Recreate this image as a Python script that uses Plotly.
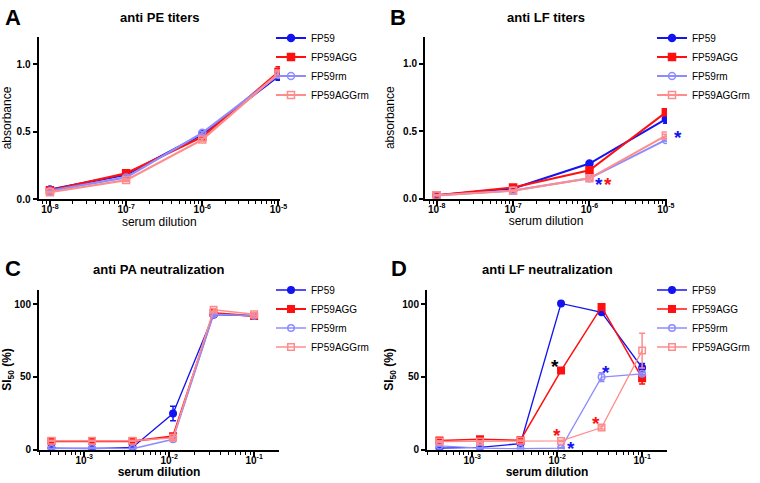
import plotly.graph_objects as go

W, H = 760, 483
FONT = "Liberation Sans, Arial, sans-serif"


def px(p):
    return p / W


def py(p):
    return 1 - p / H


names = ["FP59", "FP59AGG", "FP59rm", "FP59AGGrm"]
colors = ["#1414f0", "#ff1010", "#8c8cff", "#ff8c8c"]
symbols = ["circle", "square", "circle-open", "square-open"]

# ---- Panel A: anti PE titers ----
titer_dil = [1e-8, 1e-7, 1e-6, 1e-5]
pe_fp59 = [0.07, 0.18, 0.48, 0.91]
pe_agg = [0.065, 0.19, 0.46, 0.94]
pe_rm = [0.06, 0.16, 0.49, 0.92]
pe_aggrm = [0.05, 0.14, 0.44, 0.93]
pe_err_fp59 = [0.01, 0.01, 0.01, 0.03]
pe_err_agg = [0.01, 0.01, 0.01, 0.04]
pe_err_rm = [0.005, 0.01, 0.01, 0.02]
pe_err_aggrm = [0.005, 0.01, 0.01, 0.02]

# ---- Panel B: anti LF titers ----
lf_fp59 = [0.025, 0.075, 0.26, 0.59]
lf_agg = [0.025, 0.082, 0.21, 0.64]
lf_rm = [0.022, 0.06, 0.15, 0.435]
lf_aggrm = [0.025, 0.057, 0.15, 0.468]
lf_err_fp59 = [0.005, 0.005, 0.01, 0.03]
lf_err_agg = [0.005, 0.005, 0.01, 0.015]
lf_err_rm = [0.003, 0.005, 0.01, 0.01]
lf_err_aggrm = [0.003, 0.005, 0.01, 0.01]

# ---- Panel C: anti PA neutralization ----
neut_dil = [1/2430, 1/810, 1/270, 1/90, 1/30, 1/10]
pa_fp59 = [1.0, 0.5, 1.4, 24.7, 92.7, 91.8]
pa_agg = [5.7, 5.9, 5.7, 9.1, 93.8, 91.8]
pa_rm = [0.5, 1.0, 0.5, 7.0, 93.0, 92.0]
pa_aggrm = [6.0, 6.0, 6.0, 8.0, 96.0, 93.0]
pa_err_fp59 = [0.5, 0.5, 0.5, 5.0, 1.5, 1.0]
pa_err_agg = [0.5, 0.5, 0.5, 1.0, 1.5, 2.0]
pa_err_rm = [0.3, 0.5, 0.3, 1.0, 1.0, 1.0]
pa_err_aggrm = [0.3, 0.3, 0.3, 1.0, 1.0, 1.0]

# ---- Panel D: anti LF neutralization ----
lfn_fp59 = [0.9, 1.4, 4.1, 100.4, 94.3, 56.2]
lfn_agg = [6.2, 7.1, 6.4, 54.3, 98.0, 49.0]
lfn_rm = [2.5, 1.0, 0.5, 1.0, 49.8, 52.0]
lfn_aggrm = [5.5, 5.5, 6.0, 5.9, 15.1, 68.0]
lfn_err_fp59 = [0.5, 0.5, 0.5, 0.5, 1.0, 3.0]
lfn_err_agg = [0.5, 0.5, 0.5, 1.0, 1.5, 4.0]
lfn_err_rm = [0.5, 0.3, 0.3, 0.3, 3.0, 1.0]
lfn_err_aggrm = [0.5, 0.5, 0.5, 0.5, 1.0, 12.0]

panels = [
    dict(x=titer_dil, ys=[pe_fp59, pe_agg, pe_rm, pe_aggrm],
         errs=[pe_err_fp59, pe_err_agg, pe_err_rm, pe_err_aggrm]),
    dict(x=titer_dil, ys=[lf_fp59, lf_agg, lf_rm, lf_aggrm],
         errs=[lf_err_fp59, lf_err_agg, lf_err_rm, lf_err_aggrm]),
    dict(x=neut_dil, ys=[pa_fp59, pa_agg, pa_rm, pa_aggrm],
         errs=[pa_err_fp59, pa_err_agg, pa_err_rm, pa_err_aggrm]),
    dict(x=neut_dil, ys=[lfn_fp59, lfn_agg, lfn_rm, lfn_aggrm],
         errs=[lfn_err_fp59, lfn_err_agg, lfn_err_rm, lfn_err_aggrm]),
]

# pixel domains in the reference (left, right, top, bottom)
dom_px = [(38.5, 280, 37, 199), (425, 667, 37, 198.5),
          (39, 279, 289.5, 449.5), (427, 667, 289.5, 449.5)]
xranges = [[-8.15, -4.98], [-8.153, -4.985], [-3.532, -0.707], [-3.532, -0.707]]
yranges = [[0, 1.2], [0, 1.2], [0, 110], [0, 110]]
ytickvals = [[0, 0.5, 1.0], [0, 0.5, 1.0], [0, 50, 100], [0, 50, 100]]
yticktext = [["0.0", "0.5", "1.0"], ["0.0", "0.5", "1.0"], ["0", "50", "100"], ["0", "50", "100"]]
xtickvals = [[1e-8, 1e-7, 1e-6, 1e-5], [1e-8, 1e-7, 1e-6, 1e-5],
             [1e-3, 1e-2, 1e-1], [1e-3, 1e-2, 1e-1]]
xticktext = [["10<sup>-8</sup>", "10<sup>-7</sup>", "10<sup>-6</sup>", "10<sup>-5</sup>"]] * 2 + \
            [["10<sup>-3</sup>", "10<sup>-2</sup>", "10<sup>-1</sup>"]] * 2
minor_decades = [range(-9, -4), range(-9, -4), range(-4, 0), range(-4, 0)]
ytitles = ["absorbance", "absorbance", "SI<sub>50</sub> (%)", "SI<sub>50</sub> (%)"]
titles = ["anti PE titers", "anti LF titers", "anti PA neutralization", "anti LF neutralization"]
letters = ["A", "B", "C", "D"]
lw = [[2.2, 2.2, 2.2, 2.2], [2, 2, 2, 2], [1.3, 2, 1.5, 1.5], [1.3, 1.5, 1.3, 1.3]]
legend_px = [(271, 23.5), (652, 23.5), (271, 275.5), (652, 275.5)]
title_py = [17.5, 17.5, 269.5, 269.5]
letter_pos = [(12.5, 17.5), (397.5, 17.5), (12.5, 268.5), (399, 268.5)]

fig = go.Figure()
layout = dict(
    width=W, height=H, margin=dict(l=0, r=0, t=0, b=0),
    paper_bgcolor="white", plot_bgcolor="white", showlegend=True,
    font=dict(family=FONT, color="black"),
)
annotations = []

for i, p in enumerate(panels):
    k = "" if i == 0 else str(i + 1)
    xa, ya = "x" + k, "y" + k
    lg = "legend" + k
    for j in range(4):
        fig.add_trace(go.Scatter(
            x=p["x"], y=p["ys"][j], name=names[j], mode="lines+markers",
            xaxis=xa, yaxis=ya, legend=lg,
            line=dict(color=colors[j], width=lw[i][j]),
            marker=dict(symbol=symbols[j], size=7 if i < 2 else 6.5, color=colors[j],
                        line=dict(color=colors[j], width=1.5)),
            error_y=dict(type="data", array=p["errs"][j], color=colors[j],
                         thickness=1.5, width=3),
        ))
    l, r, t, b = dom_px[i]
    minor_vals = [m * 10.0 ** d for d in minor_decades[i] for m in range(2, 10)]
    bold_t = "bold" if i >= 2 else "normal"
    layout["xaxis" + k] = dict(
        domain=[px(l), px(r)], anchor=ya, type="log", range=xranges[i],
        tickmode="array", tickvals=xtickvals[i], ticktext=xticktext[i],
        ticks="outside", ticklen=5, tickwidth=1.5, tickcolor="black",
        ticklabelstandoff=-5,
        showline=True, linecolor="black", linewidth=2, showgrid=False, zeroline=False,
        tickfont=dict(size=10, family=FONT, weight="bold"),
        minor=dict(tickmode="array", tickvals=minor_vals, ticks="outside",
                   ticklen=3, tickwidth=1, tickcolor="black", showgrid=False),
        title=dict(text="serum dilution", standoff=2,
                   font=dict(size=12, family=FONT, weight=bold_t)),
        automargin=False,
    )
    layout["yaxis" + k] = dict(
        domain=[py(b), py(t)], anchor=xa, range=yranges[i],
        tickmode="array", tickvals=ytickvals[i], ticktext=yticktext[i],
        ticks="outside", ticklen=4, tickwidth=1.5, tickcolor="black",
        showline=True, linecolor="black", linewidth=2, showgrid=False, zeroline=False,
        tickfont=dict(size=10, family=FONT, weight="bold"),
        title=dict(text=ytitles[i], standoff=6,
                   font=dict(size=12, family=FONT, weight=bold_t)),
        automargin=False,
    )
    lx, ly = legend_px[i]
    layout[lg] = dict(
        x=px(lx), y=py(ly), xanchor="left", yanchor="top",
        font=dict(size=10, family=FONT), bgcolor="rgba(0,0,0,0)",
        itemwidth=30, tracegroupgap=0,
    )
    annotations.append(dict(
        text=titles[i], xref="paper", yref="paper",
        x=px((l + r) / 2), y=py(title_py[i]),
        xanchor="center", yanchor="middle", showarrow=False,
        font=dict(size=13, family=FONT, weight="bold"),
    ))
    lpx, lpy = letter_pos[i]
    annotations.append(dict(
        text=letters[i], xref="paper", yref="paper",
        x=px(lpx), y=py(lpy), xanchor="center", yanchor="middle", showarrow=False,
        font=dict(size=22, family=FONT, weight="bold"),
    ))

# significance asterisks (panel, log10 x, y, color, xshift)
stars = [
    (1, -5.879, 0.134, "#1414f0", 0), (1, -5.752, 0.134, "#ff1010", 0),
    (1, -4.99, 0.48, "#1414f0", 11),
    (3, -2.028, 60, "black", 0), (3, -1.430, 55.5, "#1414f0", 0),
    (3, -1.996, 12.7, "#ff1010", 0), (3, -1.832, 3.6, "#1414f0", 0),
    (3, -1.539, 20.8, "#ff1010", 0),
]
for pi, sx, sy, sc, shx in stars:
    k = "" if pi == 0 else str(pi + 1)
    annotations.append(dict(
        text="*", xref="x" + k, yref="y" + k, x=sx, y=sy, showarrow=False,
        xanchor="center", yanchor="middle", yshift=-4, xshift=shx,
        font=dict(size=19, family=FONT, color=sc, weight="bold"),
    ))

layout["annotations"] = annotations
fig.update_layout(**layout)
# remove the browser's default 8px page margin so the figure sits at (0, 0)
fig.write_html("out.html", config={"displayModeBar": False},
               post_script="document.body.style.margin='0';document.body.style.overflow='hidden';")
